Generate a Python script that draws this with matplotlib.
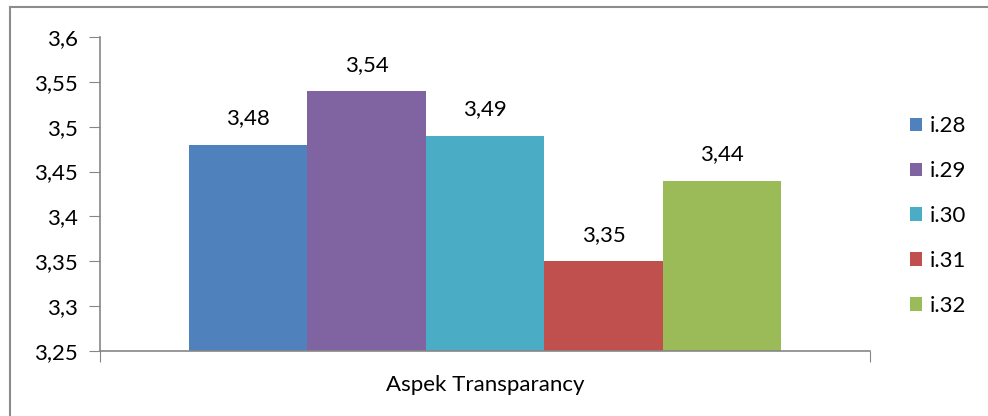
import matplotlib.pyplot as plt
from matplotlib.lines import Line2D

plt.rcParams['font.family'] = ['Lato', 'DejaVu Sans']

# data
category = "Aspek Transparancy"
series = ["i.28", "i.29", "i.30", "i.31", "i.32"]
values = [3.48, 3.54, 3.49, 3.35, 3.44]
colors = ["#4F81BD", "#8064A2", "#4BACC6", "#C0504D", "#9BBB59"]
yticks = [3.25, 3.3, 3.35, 3.4, 3.45, 3.5, 3.55, 3.6]

def fmt(v):
    return f"{v:g}".replace(".", ",")

fs = 16

fig = plt.figure(figsize=(9.88, 4.16), dpi=100)
ax = fig.add_axes([100 / 988, 1 - 351 / 416, 770 / 988, 314 / 416])

w = 0.154
n = len(series)
for i, (s, v, c) in enumerate(zip(series, values, colors)):
    x = (i - (n - 1) / 2) * w
    ax.bar(x, v - 3.25, width=w, bottom=3.25, color=c, label=s)
    ax.text(x, v + 0.018, fmt(v), ha='center', va='bottom', fontsize=fs)

ax.set_xlim(-0.5, 0.5)
ax.set_ylim(3.25, 3.6)
ax.set_yticks(yticks)
ax.set_yticklabels([fmt(t) for t in yticks], fontsize=fs)
ax.set_xticks([-0.5, 0.5])
ax.set_xticklabels([])
ax.tick_params(axis='y', length=8, color='#868686', pad=8)
ax.tick_params(axis='x', length=8, color='#868686')
for side in ['top', 'right']:
    ax.spines[side].set_visible(False)
for side in ['left', 'bottom']:
    ax.spines[side].set_color('#868686')
    ax.spines[side].set_linewidth(1.2)

fig.text(485 / 988, 1 - 385 / 416, category, ha='center', va='center', fontsize=fs)

leg = ax.legend(loc='center left', bbox_to_anchor=(1.026, 0.43), frameon=False,
                fontsize=fs, handlelength=0.55, handleheight=0.55,
                handletextpad=0.35, labelspacing=1.12)

# outer chart frame (top and left edges visible)
fig.add_artist(Line2D([10 / 988, 10 / 988], [0, 1 - 7 / 416], color='#8c8c8c', lw=1.5,
                      transform=fig.transFigure))
fig.add_artist(Line2D([10 / 988, 1], [1 - 7 / 416, 1 - 7 / 416], color='#8c8c8c', lw=1.5,
                      transform=fig.transFigure))

fig.savefig("out.png", dpi=100)
